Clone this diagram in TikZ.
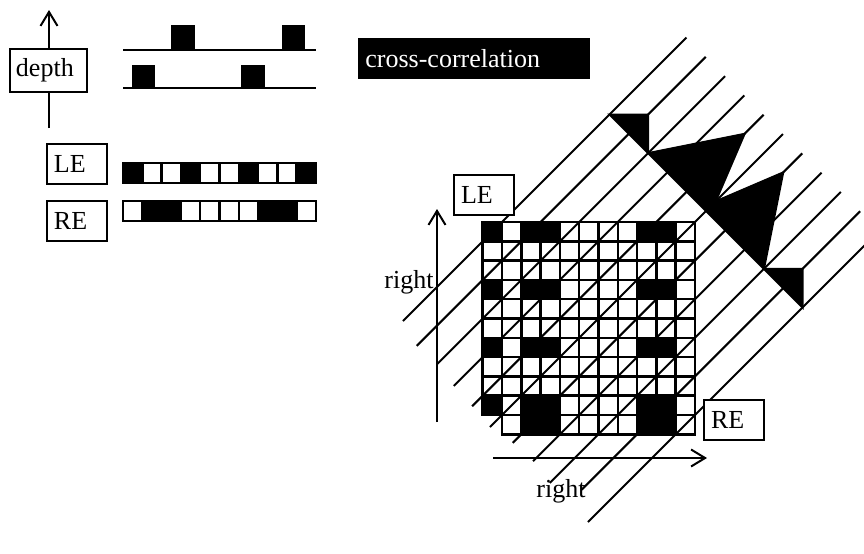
\documentclass[tikz,border=0pt]{standalone}
\usepackage{fontspec}
\setmainfont{Liberation Serif}
\usepackage{tikz}
\usetikzlibrary{arrows.meta}

\begin{document}
\begin{tikzpicture}[
    x=0.5pt, y=-0.5pt,
    lblbox/.style={rectangle, draw=black, fill=white, line width=1pt, minimum height=20pt, inner xsep=3.5pt, text width=23pt, align=left, font=\fontsize{13}{15}\selectfont, anchor=north west},
    titlebox/.style={rectangle, fill=black, text=white, minimum height=20.5pt, inner xsep=3.5pt, text width=109pt, align=left, font=\fontsize{13}{15}\selectfont, anchor=north west},
    axislbl/.style={font=\fontsize{13}{15}\selectfont, inner sep=0pt},
    cellw/.style={draw=black, fill=white, line width=1.25pt},
    cellb/.style={draw=black, fill=black, line width=1.25pt},
    trace/.style={line width=1.1pt},
    pulse/.style={draw=black, fill=black, line width=0.6pt},
    diag/.style={line width=1pt},
    arr/.style={-{Straight Barb[length=7pt, width=8.5pt]}, line width=1pt},
]

\useasboundingbox (0,0) rectangle (864,553);

% Depth axis
\coordinate (depthfoot) at (49,128);
\coordinate (depthtip) at (49,10);
\draw[arr] (depthfoot) -- (depthtip);
\node[lblbox, text width=32.5pt, inner xsep=3pt, minimum height=21.5pt] (depth) at (9,48) {depth};

% Depth traces
\draw[trace] (123,50) -- (316,50);
\draw[pulse] (172,26) rectangle (194,50);
\draw[pulse] (283,26) rectangle (304,50);
\draw[trace] (123,88) -- (316,88);
\draw[pulse] (133,66) rectangle (154,88);
\draw[pulse] (242,66) rectangle (264,88);

% LE / RE strips
\node[lblbox] (le) at (46,143) {LE};
\node[lblbox] (re) at (46,200) {RE};
\foreach \i in {0,...,9} {
  \draw[cellw] ({123+\i*19.3},163) rectangle ++(19.3,20);
  \draw[cellw] ({123+\i*19.3},201) rectangle ++(19.3,20);
}
\foreach \i in {0,3,6,9}
  \draw[cellb] ({123+\i*19.3},163) rectangle ++(19.3,20);
\foreach \i in {1,2,7,8}
  \draw[cellb] ({123+\i*19.3},201) rectangle ++(19.3,20);

% Title
\node[titlebox] (xcorr) at (358,38) {cross-correlation};

% Correlation grid
\foreach \j in {0,...,9} {
  \draw[cellw] (482.7,{222+\j*19.3}) rectangle ++(19.3,19.3);
  \foreach \i in {0,...,9}
    \draw[cellw] ({502+\i*19.3},{222+\j*19.3}) rectangle ++(19.3,19.3);
}
\foreach \i in {0,...,9}
  \draw[cellw] ({502+\i*19.3},415) rectangle ++(19.3,19.3);
\foreach \j in {0,3,6,9} {
  \draw[cellb] (482.7,{222+\j*19.3}) rectangle ++(19.3,19.3);
  \foreach \i in {1,2,7,8}
    \draw[cellb] ({502+\i*19.3},{222+\j*19.3}) rectangle ++(19.3,19.3);
}
\foreach \i in {1,2,7,8}
  \draw[cellb] ({502+\i*19.3},415) rectangle ++(19.3,19.3);

% Disparity lines
\foreach \k/\d in {0/82,1/71,2/73,3/68,4/66,5/63,6/70,7/72,8/67,9/92,10/66} {
  \pgfmathsetmacro\c{724+38.6*\k}
  \draw[diag] ({(\c+\d)/2},{(\c-\d)/2}) -- ({(\c+649)/2},{(\c-649)/2});
}

% Correlation profile
\fill[draw=black, line width=1pt] (609.5,114.5) -- (648.1,114.5) -- (648.1,153.1)
  -- (696.35,143.45) -- (744.6,133.8) -- (715.65,201.35) -- (783.2,172.4)
  -- (773.55,220.65) -- (763.9,268.9) -- (802.5,268.9) -- (802.5,307.5) -- cycle;

% Axes
\coordinate (vfoot) at (437,422);
\coordinate (vtip) at (437,209);
\draw[arr] (vfoot) -- (vtip);
\coordinate (hfoot) at (493,458);
\coordinate (htip) at (707,458);
\draw[arr] (hfoot) -- (htip);
\node[axislbl, anchor=base east] (rightv) at (434,288) {right};
\node[axislbl, anchor=base west] (righth) at (536,497) {right};

% Grid labels
\node[lblbox] (legrid) at (453,174) {LE};
\node[lblbox] (regrid) at (703,399) {RE};

\end{tikzpicture}
\end{document}
